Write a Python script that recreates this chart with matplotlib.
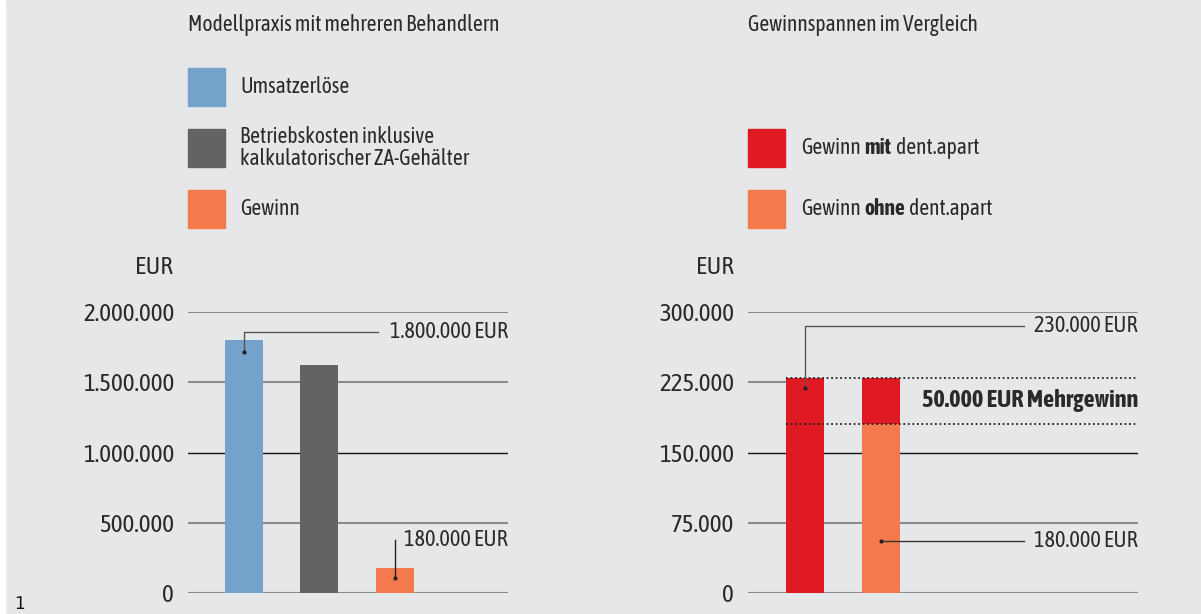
import matplotlib.pyplot as plt
from matplotlib.patches import Rectangle

plt.rcParams['font.family'] = ['Asap Condensed', 'DejaVu Sans']

# data
left_title = 'Modellpraxis mit mehreren Behandlern'
left_labels = ['Umsatzerlöse', 'Betriebskosten inklusive\nkalkulatorischer ZA-Gehälter', 'Gewinn']
left_values = [1800000, 1620000, 180000]
left_colors = ['#74a2cb', '#636365', '#f47a4e']
left_ticks = [0, 500000, 1000000, 1500000, 2000000]
left_ticklabels = ['0', '500.000', '1.000.000', '1.500.000', '2.000.000']

right_title = 'Gewinnspannen im Vergleich'
right_labels = [('Gewinn', 'mit', 'dent.apart'), ('Gewinn', 'ohne', 'dent.apart')]
gewinn_mit = 230000
gewinn_ohne = 180000
right_ticks = [0, 75000, 150000, 225000, 300000]
right_ticklabels = ['0', '75.000', '150.000', '225.000', '300.000']

bg = '#e6e7e9'
txt = '#2a2a2a'
red = '#df1a22'
orange = '#f47a4e'

W, H = 1201, 614
fig = plt.figure(figsize=(W / 100, H / 100), dpi=100)
fig.patch.set_facecolor(bg)
fig.patches.append(Rectangle((0, 0), 5 / W, 1, transform=fig.transFigure, color='white', zorder=0))


def px(x0, y0, w, h):
    # pixel box (top-left origin) -> figure fraction
    return [x0 / W, 1 - (y0 + h) / H, w / W, h / H]


def style(ax, ticks, labels, ylim):
    ax.set_facecolor('none')
    for s in ax.spines.values():
        s.set_visible(False)
    ax.set_ylim(*ylim)
    ax.set_yticks(ticks)
    ax.set_yticklabels(labels)
    ax.tick_params(axis='y', length=0, pad=10, labelsize=18, labelcolor=txt)
    ax.set_xticks([])


def gridline(ax, i, t, **kw):
    c = '#111111' if i == 2 else '#8c8c8c'
    lw = 1.0 if i == 2 else 1.5
    ax.axhline(t, color=c, lw=lw, zorder=0, **kw)


# ---- left panel
axl = fig.add_axes(px(188, 312, 320, 281))
style(axl, left_ticks, left_ticklabels, (0, 2000000))
axl.set_xlim(-0.74, 3.5)
for i, t in enumerate(left_ticks):
    gridline(axl, i, t)
axl.bar(range(3), left_values, width=0.5, color=left_colors, zorder=2)

# annotations left
axl.plot([0, 0, 1.78], [1715000, 1858000, 1858000], color='#555555', lw=1, zorder=3)
axl.plot([0], [1715000], 'o', ms=2, color='#222222', zorder=3)
axl.text(3.5, 1858000, '1.800.000 EUR', ha='right', va='center', fontsize=16, color=txt)
axl.plot([2, 2], [107000, 380000], color='#222222', lw=1, zorder=3)
axl.plot([2], [107000], 'o', ms=2, color='#222222', zorder=3)
axl.text(3.5, 375000, '180.000 EUR', ha='right', va='center', fontsize=16, color=txt)

# ---- right panel
axr = fig.add_axes(px(748, 312, 390, 281))
style(axr, right_ticks, right_ticklabels, (0, 300000))
axr.set_xlim(-0.75, 4.38)
for i, t in enumerate(right_ticks):
    if t == 225000:
        gridline(axr, i, t, xmax=0.1)
    else:
        gridline(axr, i, t)
axr.bar(0, gewinn_mit, width=0.5, color=red, zorder=2)
axr.bar(1, gewinn_ohne, width=0.5, color=orange, zorder=2)
axr.bar(1, gewinn_mit - gewinn_ohne, bottom=gewinn_ohne, width=0.5, color=red, zorder=2)
for v in (gewinn_mit, gewinn_ohne):
    axr.plot([-0.25, 4.38], [v, v], color='#222222', lw=1.3, ls=(0, (1, 1.5)), zorder=3)
axr.text(4.38, 206000, f'{(gewinn_mit - gewinn_ohne) // 1000}.000 EUR Mehrgewinn', ha='right',
         va='center', fontsize=17.5, fontweight='bold', color=txt)

axr.plot([0, 0, 2.88], [219000, 285000, 285000], color='#555555', lw=1, zorder=3)
axr.plot([0], [219000], 'o', ms=2, color='#222222', zorder=3)
axr.text(4.38, 285000, '230.000 EUR', ha='right', va='center', fontsize=16, color=txt)
axr.plot([1, 2.88], [55500, 55500], color='#333333', lw=1, zorder=3)
axr.plot([1], [55500], 'o', ms=2, color='#222222', zorder=3)
axr.text(4.38, 55500, '180.000 EUR', ha='right', va='center', fontsize=16, color=txt)

# ---- titles, legends, units
fig.text(188 / W, 1 - 25 / H, left_title, ha='left', va='center', fontsize=15.5, color=txt)
fig.text(748 / W, 1 - 25 / H, right_title, ha='left', va='center', fontsize=15.5, color=txt)

for lab, col, yc in zip(left_labels, left_colors, [87, 148, 209]):
    fig.patches.append(Rectangle((188 / W, 1 - (yc + 19) / H), 37 / W, 38 / H,
                                 transform=fig.transFigure, color=col))
    fig.text(240 / W, 1 - yc / H, lab, ha='left', va='center', fontsize=15.5, color=txt, linespacing=1.05)

renderer = fig.canvas.get_renderer()
for parts, col, yc in zip(right_labels, [red, orange], [148, 209]):
    fig.patches.append(Rectangle((748 / W, 1 - (yc + 19) / H), 37 / W, 38 / H,
                                 transform=fig.transFigure, color=col))
    x = 801
    for k, p in enumerate(parts):
        t = fig.text(x / W, 1 - yc / H, p, ha='left', va='center', fontsize=15.5, color=txt,
                     fontweight='bold' if k == 1 else 'normal')
        x = t.get_window_extent(renderer).x1 + 4

fig.text(173 / W, 1 - 268 / H, 'EUR', ha='right', va='center', fontsize=18, color=txt)
fig.text(734 / W, 1 - 268 / H, 'EUR', ha='right', va='center', fontsize=18, color=txt)
fig.text(15 / W, 1 / H, '1', ha='left', va='bottom', fontsize=14, color='#111111')

fig.savefig('out.png', dpi=100, facecolor=bg)
